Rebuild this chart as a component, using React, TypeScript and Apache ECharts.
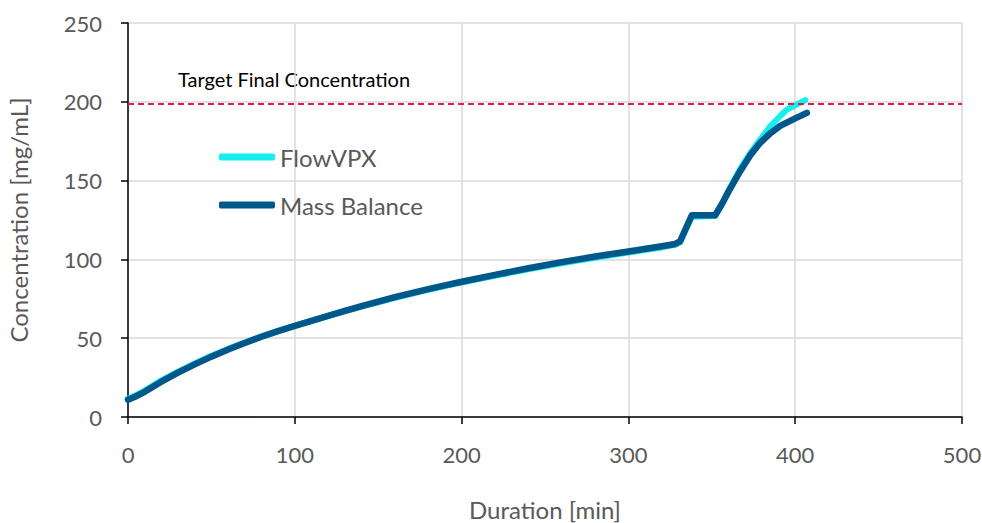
import React, { useEffect, useRef } from "react";
import * as echarts from "echarts";

const xTicks = [0, 100, 200, 300, 400, 500];
const yTicks = [0, 50, 100, 150, 200, 250];

const massTime = [0, 5, 10, 20, 30, 40, 50, 60, 70, 80, 90, 100, 110, 120, 130, 140, 150, 160, 170, 180, 190, 200, 220, 240, 260, 280, 300, 320, 328, 331, 338, 352, 356, 360, 367, 373, 379, 385, 391, 400, 407];
const massConc = [11, 13.2, 16, 22.4, 28.1, 33.4, 38.3, 42.8, 47, 50.9, 54.5, 57.8, 61, 64.2, 67.3, 70.3, 73.2, 76, 78.6, 81.1, 83.5, 85.8, 90.2, 94.4, 98.3, 101.8, 105, 108.3, 109.8, 111.5, 128, 128, 135, 143, 156, 166, 174, 180, 184.7, 189.5, 193];

const flowTime = [0, 5, 10, 20, 30, 40, 50, 60, 70, 80, 90, 100, 110, 120, 130, 140, 150, 160, 170, 180, 190, 200, 220, 240, 260, 280, 300, 320, 328, 331, 338, 352, 356, 360, 367, 373, 379, 385, 391, 395, 400, 406];
const flowConc = [11.6, 13.9, 16.8, 23.2, 28.8, 34, 38.8, 43.2, 47.3, 51.1, 54.6, 57.9, 61, 64.1, 67.1, 70, 72.8, 75.6, 78.2, 80.7, 83.1, 85.3, 89.6, 93.7, 97.6, 101.1, 104.3, 107.6, 109.2, 110.8, 127, 127.5, 135, 143.5, 157.5, 167.5, 176, 184.5, 191, 195, 197.8, 201];

const targetConc = 199;
const targetLabel = "Target Final Concentration";

const FONT = "Lato, 'Open Sans', sans-serif";

export default function App() {
  const ref = useRef<HTMLDivElement>(null);
  useEffect(() => {
    document.body.style.margin = "0";
    if (!ref.current) return;
    const chart = echarts.init(ref.current, undefined, { renderer: "svg" });
    const massData = massTime.map((t, i) => [t, massConc[i]]);
    const flowData = flowTime.map((t, i) => [t, flowConc[i]]);
    chart.setOption({
      animation: false,
      backgroundColor: "#ffffff",
      textStyle: { fontFamily: FONT },
      grid: { left: 128, right: 20, top: 23, bottom: 106, containLabel: false, outerBoundsMode: "none" },
      legend: {
        data: ["FlowVPX", "Mass Balance"],
        orient: "vertical",
        left: 214,
        top: 140,
        icon: "roundRect",
        itemWidth: 56,
        itemHeight: 7,
        itemGap: 24,
        textStyle: { fontSize: 24, color: "#595959", fontFamily: FONT },
      },
      graphic: [
        {
          type: "text",
          left: 178,
          top: 69,
          style: { text: targetLabel, fontSize: 20, fill: "#000000", fontFamily: FONT },
        },
      ],
      xAxis: {
        type: "value",
        min: xTicks[0],
        max: xTicks[xTicks.length - 1],
        interval: 100,
        name: "Duration [min]",
        nameLocation: "middle",
        nameGap: 80,
        nameTextStyle: { fontSize: 24, color: "#595959", fontFamily: FONT },
        axisLine: { show: true, lineStyle: { color: "#000000", width: 1.5 } },
        axisTick: { show: true, length: 7, lineStyle: { color: "#000000", width: 1.5 } },
        axisLabel: { fontSize: 22, color: "#595959", margin: 26, fontFamily: FONT },
        splitLine: { show: true, lineStyle: { color: "#d9d9d9", width: 1.5 } },
      },
      yAxis: {
        type: "value",
        min: yTicks[0],
        max: yTicks[yTicks.length - 1],
        interval: 50,
        name: "Concentration [mg/mL]",
        nameLocation: "middle",
        nameGap: 98,
        nameTextStyle: { fontSize: 24, color: "#595959", fontFamily: FONT },
        axisLine: { show: true, lineStyle: { color: "#000000", width: 1.5 } },
        axisTick: { show: true, length: 7, lineStyle: { color: "#000000", width: 1.5 } },
        axisLabel: { fontSize: 22, color: "#595959", margin: 26, fontFamily: FONT },
        splitLine: { show: true, lineStyle: { color: "#d9d9d9", width: 1.5 } },
      },
      series: [
        {
          name: "FlowVPX",
          type: "line",
          data: flowData,
          symbol: "none",
          color: "#14F0F0",
          lineStyle: { color: "#14F0F0", width: 6, cap: "round", join: "round" },
          markLine: {
            silent: true,
            symbol: ["none", "none"],
            label: { show: false },
            lineStyle: { color: "#E8194A", width: 2, type: [6, 4] },
            data: [{ yAxis: targetConc }],
          },
          z: 2,
        },
        {
          name: "Mass Balance",
          type: "line",
          data: massData,
          symbol: "none",
          color: "#00588A",
          lineStyle: { color: "#00588A", width: 6.5, cap: "round", join: "round" },
          z: 3,
        },
      ],
    });
    return () => chart.dispose();
  }, []);
  return <div ref={ref} style={{ width: 982, height: 523 }} />;
}
